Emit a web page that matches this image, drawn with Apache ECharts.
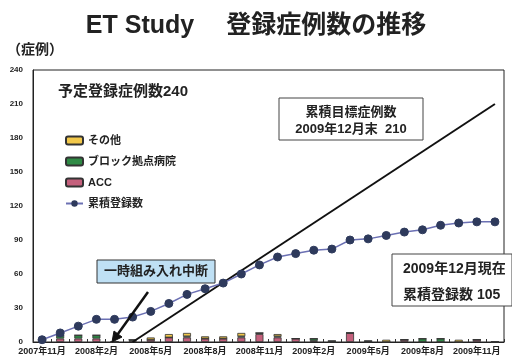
<!DOCTYPE html>
<html>
<head>
<meta charset="utf-8">
<script src="https://cdn.jsdelivr.net/npm/echarts@6/dist/echarts.min.js"></script>
<style>
html,body{margin:0;padding:0;background:#fff;}
#c{width:512px;height:360px;}
</style>
</head>
<body>
<div id="c"></div>
<script>
const months = ['2007年11月','2007年12月','2008年1月','2008年2月','2008年3月','2008年4月','2008年5月','2008年6月','2008年7月','2008年8月','2008年9月','2008年10月','2008年11月','2008年12月','2009年1月','2009年2月','2009年3月','2009年4月','2009年5月','2009年6月','2009年7月','2009年8月','2009年9月','2009年10月','2009年11月','2009年12月'];
const accBars   = [2,3,3,3,0,1,2,4,4,3,3,4,7,4,3,1,0,8,0,0,2,0,0,0,2,0];
const blockBars = [0,3,3,3,0,1,0,0,1,0,0,1,1,1,0,2,1,0,1,0,0,3,3,0,0,0];
const otherBars = [0,0,0,0,0,0,2,3,3,2,2,3,0,2,0,0,0,0,0,2,0,0,0,2,0,0];
const cumulative = [2,8,14,20,20,22,27,34,42,47,52,60,68,75,78,81,82,90,91,94,97,99,103,105,106,106];
const targetLine = [null,null,null,null,null,0,null,null,null,null,null,null,null,null,null,null,null,null,null,null,null,null,null,null,null,210];
const yTicks = {min:0, max:240, interval:30};

const JP = '"Liberation Sans","Noto Sans CJK JP",sans-serif';
const chart = echarts.init(document.getElementById('c'));
const barBase = {type:'bar', stack:'m', barWidth:8};
chart.setOption({
  animation:false,
  textStyle:{fontFamily:JP},
  grid:{left:33, right:8, top:70, bottom:18, show:true, borderColor:'#222', borderWidth:1},
  title:[
    {text:'ET Study　 登録症例数の推移', left:'center', top:9,
     textStyle:{fontFamily:JP, fontSize:25, fontWeight:'bold', color:'#222'}},
    {text:'（症例）', left:2, top:38, textStyle:{fontFamily:JP, fontSize:14, fontWeight:'bold', color:'#222'}}
  ],
  legend:{orient:'vertical', left:60, top:130, itemGap:10, itemWidth:17, itemHeight:8,
    textStyle:{fontFamily:JP, fontSize:11, fontWeight:'bold', color:'#222'},
    data:['その他','ブロック拠点病院','ACC','累積登録数']},
  xAxis:{type:'category', data:months, boundaryGap:true,
    axisLine:{lineStyle:{color:'#222', width:1}},
    axisTick:{show:true, inside:true, length:3, interval:0, lineStyle:{color:'#333'}},
    axisLabel:{interval:2, fontSize:9, fontWeight:'bold', color:'#222', margin:5, fontFamily:JP}},
  yAxis:{type:'value', min:yTicks.min, max:yTicks.max, interval:yTicks.interval,
    splitLine:{show:false},
    axisLine:{show:true, lineStyle:{color:'#222', width:1}},
    axisTick:{show:false},
    axisLabel:{fontSize:8, fontWeight:'bold', color:'#222', margin:10, fontFamily:'"Liberation Sans",sans-serif'}},
  series:[
    Object.assign({}, barBase, {name:'ACC', data:accBars, itemStyle:{color:'#c4607c', borderColor:'#333', borderWidth:0.8}}),
    Object.assign({}, barBase, {name:'ブロック拠点病院', data:blockBars, itemStyle:{color:'#2f8a45', borderColor:'#333', borderWidth:0.8}}),
    Object.assign({}, barBase, {name:'その他', data:otherBars, itemStyle:{color:'#f2c84a', borderColor:'#333', borderWidth:0.8}}),
    {name:'目標', type:'line', data:targetLine, connectNulls:true, symbol:'none',
     lineStyle:{color:'#111', width:2}, z:3},
    {name:'累積登録数', type:'line', data:cumulative, symbol:'circle', symbolSize:8,
     lineStyle:{color:'#6b70b3', width:1.5},
     itemStyle:{color:'#2e3a5c', borderColor:'#2e3a5c'}, z:4}
  ],
  graphic:[
    {type:'text', left:58, top:84, style:{text:'予定登録症例数240', font:'bold 15px '+JP, fill:'#222'}},
    {type:'rect', shape:{x:279, y:98, width:144, height:42}, style:{fill:'#fff', stroke:'#444', lineWidth:1}, z:10},
    {type:'text', x:351, y:112, style:{text:'累積目標症例数', font:'bold 13px '+JP, fill:'#222', textAlign:'center', textVerticalAlign:'middle'}, z:11},
    {type:'text', x:351, y:129, style:{text:'2009年12月末  210', font:'bold 13px '+JP, fill:'#222', textAlign:'center', textVerticalAlign:'middle'}, z:11},
    {type:'rect', shape:{x:392, y:254, width:120, height:52}, style:{fill:'#fff', stroke:'#444', lineWidth:1}, z:10},
    {type:'text', x:403, y:269, style:{text:'2009年12月現在', font:'bold 14px '+JP, fill:'#222', textVerticalAlign:'middle'}, z:11},
    {type:'text', x:403, y:295, style:{text:'累積登録数 105', font:'bold 14px '+JP, fill:'#222', textVerticalAlign:'middle'}, z:11},
    {type:'rect', shape:{x:97, y:260, width:118, height:23}, style:{fill:'#bfe0f4', stroke:'#333', lineWidth:1}, z:10},
    {type:'text', x:156, y:271.5, style:{text:'一時組み入れ中断', font:'bold 13px '+JP, fill:'#222', textAlign:'center', textVerticalAlign:'middle'}, z:11},
    {type:'line', shape:{x1:148, y1:292, x2:115, y2:338}, style:{stroke:'#111', lineWidth:2.5}, z:10},
    {type:'polygon', shape:{points:[[112,342],[122,337],[114,331]]}, style:{fill:'#111', stroke:'#111', lineWidth:1}, z:10}
  ]
});
</script>
</body>
</html>
